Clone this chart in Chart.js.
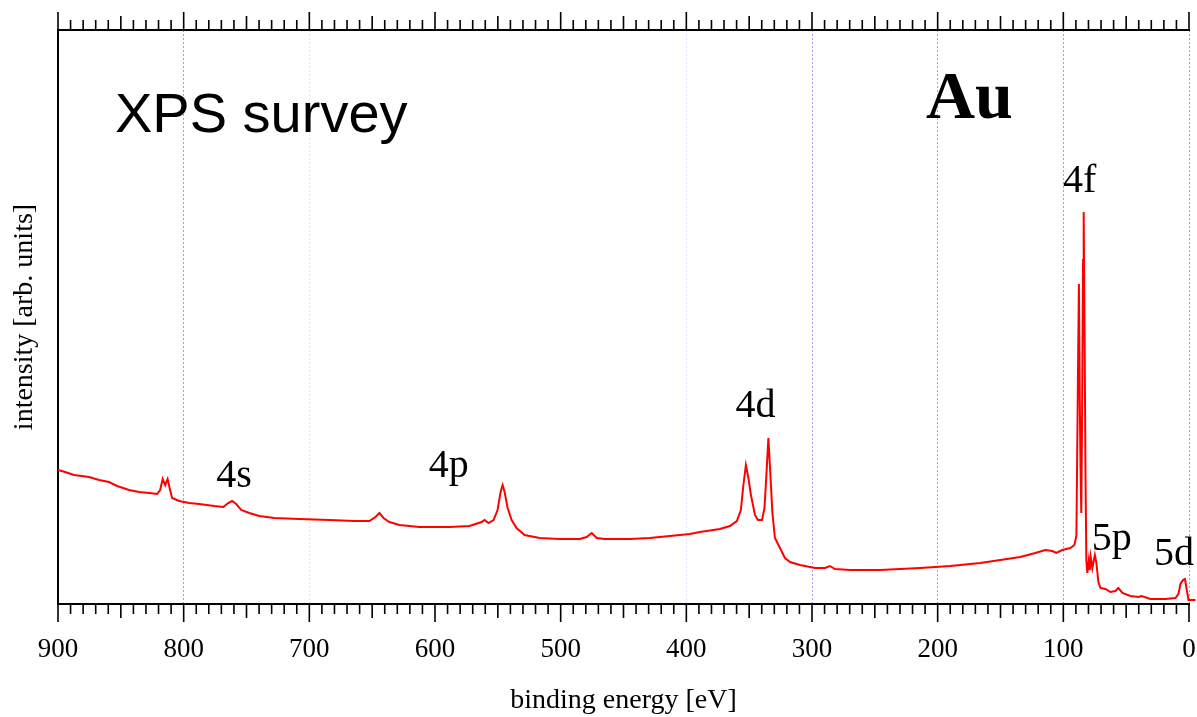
<!DOCTYPE html>
<html>
<head>
<meta charset="utf-8">
<script src="https://cdn.jsdelivr.net/npm/chart.js@4.4.1/dist/chart.umd.min.js"></script>
<style>
  html, body { margin: 0; padding: 0; background: #fff; }
  #wrap { width: 1197px; height: 717px; }
</style>
</head>
<body>
<div id="wrap"><canvas id="xps" width="1197" height="717"></canvas></div>
<script>
// Au XPS survey spectrum, binding energy (eV) vs intensity (arb. units)
const energy = [
  900, 894.4, 887.3, 875.3, 867.3, 859.4, 853.0, 843.4, 835.5, 827.5,
  821.1, 818.7, 816.7, 814.7, 812.8, 810.8, 809.2, 803.6, 795.6, 787.6,
  775.7, 768.5, 764.5, 761.4, 758.2, 754.2, 747.8, 739.8, 727.9, 708.0,
  684.1, 664.1, 652.2, 647.4, 644.2, 641.0, 636.3, 628.3, 612.4, 588.4,
  572.5, 562.9, 560.6, 557.4, 553.4, 550.2, 547.8, 546.2, 544.6, 542.2,
  539.0, 535.1, 528.7, 516.7, 500.8, 484.9, 479.3, 475.3, 471.3, 464.9,
  445.0, 429.1, 413.1, 397.2, 389.2, 373.3, 365.3, 359.8, 356.6, 354.6,
  352.6, 350.6, 348.6, 345.4, 343.0, 339.8, 337.8, 336.3, 334.7, 333.1,
  331.5, 329.5, 327.1, 324.7, 321.5, 317.5, 309.6, 297.6, 289.6, 285.7,
  281.7, 269.7, 245.8, 213.9, 190.0, 166.1, 150.2, 134.3, 122.3, 114.4,
  108.8, 105.6, 100.8, 94.4, 91.2, 89.6, 88.4, 87.6, 86.9, 86.3,
  85.7, 85.1, 84.3, 83.8, 83.1, 82.4, 81.7, 80.9, 79.7, 78.9,
  78.2, 76.9, 74.9, 73.7, 72.1, 70.5, 66.5, 62.5, 58.6, 56.2,
  53.0, 46.6, 40.2, 37.8, 30.7, 18.7, 10.8, 8.4, 6.8, 4.8,
  3.2, 2.0, 0.4, -5.2
];
const intensity = [
  134, 132, 129, 127, 124, 122, 118, 114, 112, 111,
  110, 114, 125, 119, 125, 114, 106, 103, 101, 100,
  98, 97, 101, 103, 100, 94, 91, 88, 86, 85,
  84, 83, 83, 87, 91, 86, 82, 79, 77, 77,
  78, 82, 84, 81, 84, 94, 112, 119, 112, 96,
  84, 76, 69, 66, 65, 65, 67, 71, 66, 65,
  65, 66, 68, 70, 72, 75, 78, 83, 94, 119,
  139, 126, 109, 89, 84, 84, 96, 129, 166, 129,
  91, 66, 60, 54, 46, 42, 39, 36, 36, 38,
  35, 34, 34, 36, 38, 41, 44, 47, 51, 54,
  53, 51, 54, 56, 59, 68, 224, 320, 204, 134,
  91, 184, 344, 392, 274, 134, 44, 31, 44, 34,
  47, 36, 49, 41, 22, 16, 15, 12, 13, 16,
  11, 8, 7, 8, 5, 5, 6, 10, 20, 24,
  25, 16, 4, 4
];

// peak labels, anchored in (energy, intensity)
const peakNames = ["4s", "4p", "4d", "4f", "5p", "5d"];
const peakLabelE = [760, 589, 345, 87, 61.4, 12];
const peakLabelI = [117, 127, 187, 412, 54, 39];

const xMin = 0, xMax = 900, yMin = 0, yMax = 574;
const gridStrong = [800, 300, 200, 100, 0];
const gridFaint = [700, 400];

const SERIF = "'Liberation Serif', 'Times New Roman', serif";
const SANS = "'Liberation Sans', Arial, sans-serif";

// minor/major tick marks on bottom and top edges
const tickMarks = {
  id: "tickMarks",
  afterDraw(chart) {
    const { ctx, chartArea } = chart;
    const sx = chart.scales.x;
    ctx.save();
    ctx.strokeStyle = "#000";
    ctx.lineWidth = 1.6;
    ctx.beginPath();
    for (let e = xMin; e <= xMax; e += 10) {
      const px = sx.getPixelForValue(e);
      const len = e % 100 === 0 ? 18 : e % 50 === 0 ? 14 : 10;
      ctx.moveTo(px, chartArea.bottom);
      ctx.lineTo(px, chartArea.bottom + len);
      ctx.moveTo(px, chartArea.top);
      ctx.lineTo(px, chartArea.top - len);
    }
    ctx.stroke();
    ctx.restore();
  },
};

const annotations = {
  id: "annotations",
  afterDatasetsDraw(chart) {
    const { ctx, chartArea } = chart;
    const sx = chart.scales.x, sy = chart.scales.y;
    ctx.save();
    ctx.fillStyle = "#000";
    ctx.textBaseline = "alphabetic";

    ctx.textAlign = "left";
    ctx.font = "56px " + SANS;
    ctx.fillText("XPS survey", chartArea.left + 57, chartArea.top + 102);

    ctx.font = "bold 68px " + SERIF;
    ctx.fillText("Au", chartArea.left + 868, chartArea.top + 88);

    ctx.textAlign = "center";
    ctx.font = "40px " + SERIF;
    peakNames.forEach((name, i) => {
      ctx.fillText(name, sx.getPixelForValue(peakLabelE[i]), sy.getPixelForValue(peakLabelI[i]));
    });
    ctx.restore();
  },
};

new Chart(document.getElementById("xps"), {
  type: "line",
  data: {
    datasets: [{
      label: "Au survey",
      data: energy.map((e, i) => ({ x: e, y: intensity[i] })),
      borderColor: "#ff0000",
      borderWidth: 2,
      pointRadius: 0,
      tension: 0,
      clip: { left: 0, top: 0, right: 8, bottom: 0 },
    }],
  },
  options: {
    responsive: false,
    animation: false,
    devicePixelRatio: 1,
    layout: { padding: { right: 8 } },
    plugins: { legend: { display: false }, tooltip: { enabled: false } },
    scales: {
      x: {
        type: "linear",
        position: "bottom",
        reverse: true,
        min: xMin,
        max: xMax,
        afterFit: (s) => { s.height = 113; s.paddingLeft = 0; s.paddingRight = 0; },
        ticks: {
          stepSize: 100,
          padding: 30,
          color: "#000",
          font: { family: SERIF, size: 27 },
          maxRotation: 0,
        },
        grid: {
          drawTicks: false,
          lineWidth: 1,
          color: (c) => {
            const v = c.tick && c.tick.value;
            if (gridStrong.includes(v)) return "#9c9cff";
            if (gridFaint.includes(v)) return "#e2e2ff";
            return "rgba(0,0,0,0)";
          },
        },
        border: { display: true, color: "#000", width: 2, dash: [2, 2] },
        title: {
          display: true,
          text: "binding energy [eV]",
          color: "#000",
          font: { family: SERIF, size: 28 },
          padding: { top: 0, bottom: 0 },
        },
      },
      xTop: {
        type: "linear",
        position: "top",
        reverse: true,
        min: xMin,
        max: xMax,
        afterFit: (s) => { s.height = 30; s.paddingLeft = 0; s.paddingRight = 0; },
        ticks: { display: false },
        grid: { display: false, drawTicks: false },
        border: { display: true, color: "#000", width: 2 },
      },
      y: {
        type: "linear",
        position: "left",
        min: yMin,
        max: yMax,
        afterFit: (s) => { s.width = 58; },
        ticks: { display: false },
        grid: { display: false, drawTicks: false },
        border: { display: true, color: "#000", width: 2 },
        title: {
          display: true,
          text: "intensity [arb. units]",
          color: "#000",
          font: { family: SERIF, size: 28 },
          padding: { top: 8, bottom: 8 },
        },
      },
    },
  },
  plugins: [tickMarks, annotations],
});
</script>
</body>
</html>
